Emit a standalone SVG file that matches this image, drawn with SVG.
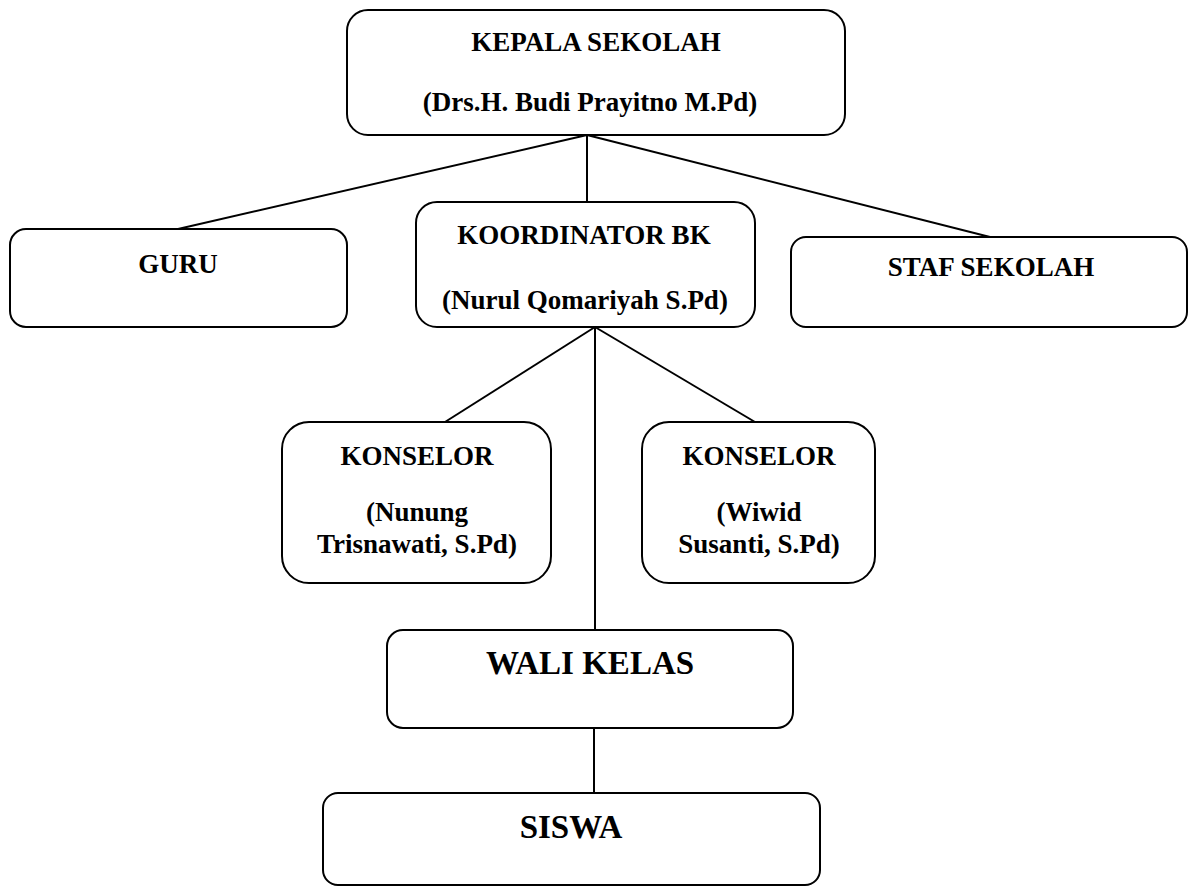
<svg xmlns="http://www.w3.org/2000/svg" width="1194" height="888" viewBox="0 0 1194 888">
<style>
.box{fill:#fff;stroke:#000;stroke-width:2}
.t{font-family:"Liberation Serif","Times New Roman",serif;font-weight:bold;font-size:27px;text-anchor:middle;fill:#000}
.tl{font-family:"Liberation Serif","Times New Roman",serif;font-weight:bold;font-size:33px;text-anchor:middle;fill:#000}
.c{stroke:#000;stroke-width:2;fill:none}
</style>
<rect width="1194" height="888" fill="#fff"/>
<g id="connectors">
<line class="c" x1="587" y1="135" x2="587" y2="202"/>
<line class="c" x1="587" y1="135" x2="178" y2="229"/>
<line class="c" x1="587" y1="135" x2="990" y2="237"/>
<line class="c" x1="595" y1="327" x2="595" y2="630"/>
<line class="c" x1="595" y1="327" x2="445" y2="422"/>
<line class="c" x1="595" y1="327" x2="755" y2="422"/>
<line class="c" x1="594" y1="728" x2="594" y2="793"/>
</g>
<g id="kepala">
<rect class="box" x="347" y="10" width="498" height="125" rx="21"/>
<text class="t" x="596" y="51">KEPALA SEKOLAH</text>
<text class="t" x="590" y="111">(Drs.H. Budi Prayitno M.Pd)</text>
</g>
<g id="guru">
<rect class="box" x="10" y="229" width="337" height="98" rx="16"/>
<text class="t" x="178" y="273">GURU</text>
</g>
<g id="koordinator">
<rect class="box" x="416" y="202" width="339" height="125" rx="21"/>
<text class="t" x="584" y="244">KOORDINATOR BK</text>
<text class="t" x="585" y="309">(Nurul Qomariyah S.Pd)</text>
</g>
<g id="staf">
<rect class="box" x="791" y="237" width="396" height="90" rx="15"/>
<text class="t" x="991" y="276">STAF SEKOLAH</text>
</g>
<g id="konselor1">
<rect class="box" x="282" y="422" width="269" height="161" rx="27"/>
<text class="t" x="417" y="465">KONSELOR</text>
<text class="t" x="417" y="521">(Nunung</text>
<text class="t" x="417" y="553">Trisnawati, S.Pd)</text>
</g>
<g id="konselor2">
<rect class="box" x="642" y="422" width="233" height="161" rx="27"/>
<text class="t" x="759" y="465">KONSELOR</text>
<text class="t" x="759" y="521">(Wiwid</text>
<text class="t" x="759" y="553">Susanti, S.Pd)</text>
</g>
<g id="walikelas">
<rect class="box" x="387" y="630" width="406" height="98" rx="16"/>
<text class="tl" x="590" y="674">WALI KELAS</text>
</g>
<g id="siswa">
<rect class="box" x="323" y="793" width="497" height="92" rx="15"/>
<text class="tl" x="571" y="838">SISWA</text>
</g>
</svg>
